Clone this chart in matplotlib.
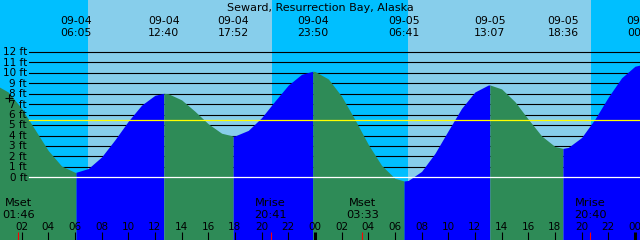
import matplotlib
matplotlib.use("Agg")
import matplotlib.pyplot as plt
import matplotlib.transforms as mtransforms

plt.rcParams['font.family'] = ['DejaVu Sans']

# ---------------- data ----------------
title = "Seward, Resurrection Bay, Alaska"
dates = ["09-04", "09-05", "09-06"]          # day 0, 1, 2

# tide heights (ft), hourly (hours since 09-04 00:00)
tide_hours = list(range(0, 49))
tide_feet = [8.88, 8.16, 6.60, 4.57, 2.56, 1.08, 0.48, 0.84, 1.95, 3.59,
             5.37, 6.91, 7.85, 8.00, 7.41, 6.32, 5.12, 4.22, 3.96, 4.49,
             5.71, 7.30, 8.82, 9.86, 10.13, 9.42, 7.76, 5.52, 3.15, 1.14,
             -0.10, -0.30, 0.57, 2.29, 4.47, 6.60, 8.17, 8.83, 8.46, 7.24,
             5.56, 3.96, 2.95, 2.86, 3.81, 5.57, 7.67, 9.52, 10.63]

# high / low tides
ext_day = [0, 0, 0, 0, 1, 1, 1, 2]
ext_time = ["06:05", "12:40", "17:52", "23:50", "06:41", "13:07", "18:36", "00:34"]
ext_feet = [0.48, 8.04, 3.95, 10.15, -0.35, 8.84, 2.77, 10.80]

# sun: sunrise / sunset
sun_day = [0, 0, 1, 1]
sun_time = ["06:58", "20:48", "07:01", "20:44"]

# moon events
moon_name = ["Mset", "Mrise", "Mset", "Mrise"]
moon_day = [0, 0, 1, 1]
moon_time = ["01:46", "20:41", "03:33", "20:40"]

ft_levels = list(range(0, 13))
mean_level = 5.45
now_mark = (1.05, 7.56)

window_start = 0.38     # hours after 09-04 00:00
window_len = 48
hour_ticks = list(range(2, 49, 2))

# ---------------- helpers ----------------
def to_hours(day, hhmm):
    h, m = hhmm.split(":")
    return day * 24 + int(h) + int(m) / 60.0

W, H = 640, 240
fig = plt.figure(figsize=(W / 100, H / 100), dpi=100)
ax = fig.add_axes([0, 0, 1, 1])
x0, x1 = window_start, window_start + window_len
ax.set_xlim(x0, x1)
ax.set_ylim(-6.0, 16.97)
ax.axis('off')

def fy(ypix):  # pixel row -> axes fraction
    return 1 - ypix / H

bt = mtransforms.blended_transform_factory(ax.transData, ax.transAxes)

NIGHT = "#00BFFF"
DAY = "#87CEEB"
GREEN = "#2E8B57"
BLUE = "#0000FF"
FS_TITLE = 8.0
FS_EXT = 7.8
FS_MOON = 8.2
FS_SMALL = 7.5

# sky
sun_h = [to_hours(d, t) for d, t in zip(sun_day, sun_time)]
edges = [x0 - 1] + sun_h + [x1 + 1]
for i in range(len(edges) - 1):
    ax.axvspan(edges[i], edges[i + 1], color=NIGHT if i % 2 == 0 else DAY,
               lw=0, zorder=0)

# grid lines
for lv in ft_levels[1:]:
    ax.axhline(lv, xmin=29 / W, xmax=1, color="black", lw=0.8, zorder=1)

# tide series with extremes merged in
ext_h = [to_hours(d, t) for d, t in zip(ext_day, ext_time)]
pts = sorted(list(zip(tide_hours, tide_feet)) + list(zip(ext_h, ext_feet)))
ts = [p[0] for p in pts]
hs = [p[1] for p in pts]
base = -6.0
splits = [ts[0]] + ext_h
if splits[-1] < ts[-1]:
    splits.append(ts[-1])
for a, b in zip(splits[:-1], splits[1:]):
    seg = [(t, h) for t, h in zip(ts, hs) if a <= t <= b]
    st = [s[0] for s in seg]
    sh = [s[1] for s in seg]
    col = GREEN if sh[-1] < sh[0] else BLUE
    ax.fill_between(st, sh, base, color=col, lw=0, zorder=2)

ax.axhline(0, xmin=29 / W, xmax=1, color="white", lw=0.9, zorder=3)
ax.axhline(mean_level, xmin=29 / W, xmax=1, color="#FFFF00", lw=0.9, zorder=3)

# y labels
tr_lab = mtransforms.offset_copy(
    mtransforms.blended_transform_factory(ax.transAxes, ax.transData),
    fig=fig, x=0, y=-3.4, units='dots')
for lv in ft_levels:
    ax.text(27 / W, lv, f"{lv} ft", transform=tr_lab, ha='right',
            va='baseline', fontsize=FS_SMALL, color='black', zorder=5)

ax.plot([now_mark[0]], [now_mark[1]], marker='+', color='black',
        markersize=6, mew=0.8, zorder=5)

# title
ax.text(0.5, fy(11.0), title, transform=ax.transAxes, ha='center',
        va='baseline', fontsize=FS_TITLE, zorder=5)

# tide extreme labels
for d, t, h in zip(ext_day, ext_time, ext_h):
    ax.text(h, fy(24.0), dates[d], transform=bt, ha='center', va='baseline',
            fontsize=FS_EXT, zorder=5)
    ax.text(h, fy(35.7), t, transform=bt, ha='center', va='baseline',
            fontsize=FS_EXT, zorder=5)

# moon labels
moon_h = [to_hours(d, t) for d, t in zip(moon_day, moon_time)]
for n, t, h in zip(moon_name, moon_time, moon_h):
    ax.text(h, fy(206.0), n, transform=bt, ha='center', va='baseline',
            fontsize=FS_MOON, zorder=5)
    ax.text(h, fy(217.5), t, transform=bt, ha='center', va='baseline',
            fontsize=FS_MOON, zorder=5)
ax.vlines(moon_h, 0, 8 / H, transform=bt, color='red', lw=0.8, zorder=5)

# hour ticks
for h in hour_ticks:
    mid = (h % 24 == 0)
    ax.vlines([h], 0, 8 / H, transform=bt, color='black',
              lw=2.2 if mid else 0.8, zorder=5)
    ax.text(h, fy(230.0), f"{h % 24:02d}", transform=bt, ha='center',
            va='baseline', fontsize=FS_SMALL, zorder=5)

fig.savefig("out.png", dpi=100)
